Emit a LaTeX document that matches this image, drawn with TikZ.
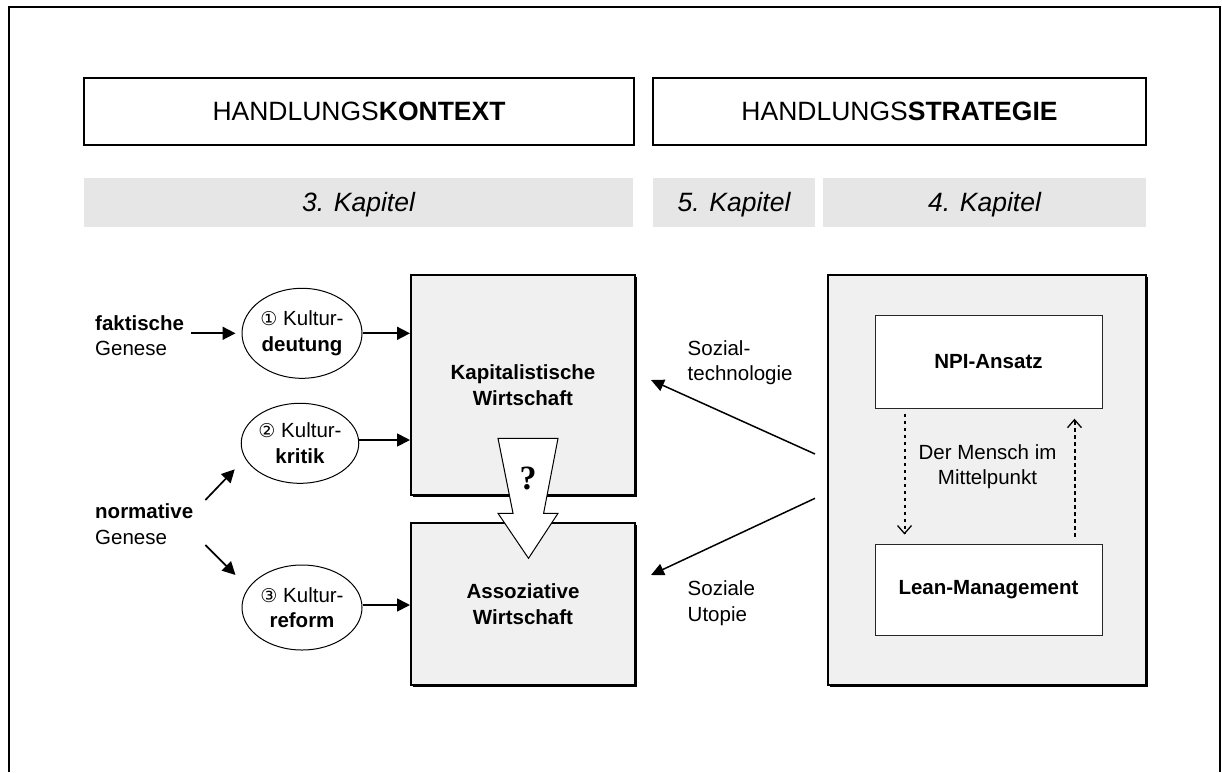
\documentclass[tikz,border=0pt]{standalone}
\usepackage{fontspec}
\setmainfont{Liberation Sans}
\newfontfamily\circfont{DejaVu Sans}
\newfontfamily\qfont{Liberation Serif}
\usetikzlibrary{arrows.meta,shadows,calc,shapes.geometric}
\definecolor{boxgray}{HTML}{F0F0F0}
\definecolor{bargray}{HTML}{E6E6E6}
\begin{document}
\begin{tikzpicture}[x=1pt,y=-1pt,
  every node/.style={inner sep=0pt},
  txt/.style={font=\fontsize{20.5}{25.6}\selectfont, align=center},
  titlebox/.style={draw, line width=2pt, fill=white, minimum height=67,
    font=\fontsize{26.5}{30}\selectfont, text depth=0pt,
    drop shadow={shadow xshift=0.8pt, shadow yshift=-0.8pt, fill=black, opacity=1}},
  kapbar/.style={fill=bargray, minimum height=49, text depth=0pt,
    font=\fontsize{26.5}{30}\selectfont\itshape},
  mainbox/.style={draw, line width=2pt, fill=boxgray, txt, font=\fontsize{20.5}{25.6}\selectfont\bfseries,
    drop shadow={shadow xshift=1.5pt, shadow yshift=-1.5pt, fill=black, opacity=1}},
  innerbox/.style={draw=black!85, line width=1pt, fill=white, minimum width=227, txt,
    font=\fontsize{20.5}{25.6}\selectfont\bfseries},
  ell/.style={ellipse, draw, line width=1pt, fill=white, txt},
  lbl/.style={txt, align=left, anchor=west},
  arr/.style={-{Triangle[length=13pt,width=13pt]}, line width=1.7pt},
  sarr/.style={-{Triangle[length=13pt,width=12pt]}, line width=1.5pt},
  darr/.style={-{Straight Barb[length=8pt,width=14pt,line width=1.3pt]}, line width=2pt,
    dash pattern=on 3.5pt off 3.5pt}
]
\useasboundingbox (0,0) rectangle (1222,772);
\fill[white] (0,0) rectangle (1222,772);

% outer frame (open at the bottom)
\draw[line width=2pt] (9,772) -- (9,7) -- (1220,7) -- (1220,772);

% titles
\node[titlebox, minimum width=550] (t1) at (359,111.5) {HANDLUNGS\textbf{KONTEXT}};
\node[titlebox, minimum width=493] (t2) at (899.5,111.5) {HANDLUNGS\textbf{STRATEGIE}};

% chapter bars
\node[kapbar, minimum width=549] (k3) at (358.5,202.2) {3. Kapitel};
\node[kapbar, minimum width=162] (k5) at (734,202.2) {5. Kapitel};
\node[kapbar, minimum width=323] (k4) at (984.5,202.2) {4. Kapitel};

% main boxes
\node[mainbox, minimum width=224, minimum height=220] (kap) at (523,385) {Kapitalistische\\Wirtschaft};
\node[mainbox, minimum width=224, minimum height=162] (ass) at (523,604) {Assoziative\\Wirtschaft};
\node[mainbox, minimum width=318, minimum height=410] (big) at (987,480) {};

\node[innerbox, minimum height=93] (npi) at (988.5,361.7) {NPI-Ansatz};
\node[innerbox, minimum height=91] (lean) at (988.5,589.5) {Lean-Management};

% ellipses
\node[ell, minimum width=120, minimum height=90] (e1) at (302,333.3) {{\circfont\fontsize{19}{20}\selectfont ①} Kultur-\\\textbf{deutung}};
\node[ell, minimum width=116, minimum height=80] (e2) at (300,443.3) {{\circfont\fontsize{19}{20}\selectfont ②} Kultur-\\\textbf{kritik}};
\node[ell, minimum width=120, minimum height=85] (e3) at (302,607.5) {{\circfont\fontsize{19}{20}\selectfont ③} Kultur-\\\textbf{reform}};

% left labels
\node[lbl] (fak) at (95,335.5) {\textbf{faktische}\\Genese};
\node[lbl] (nor) at (95,524) {\textbf{normative}\\Genese};

% left arrows
\draw[arr] ($(fak.east |- e1.west)+(7,0)$) -- ($(e1.west)+(-6,0)$);
\draw[arr] ($(nor.east)+(12,-24)$) -- ($(e2.west)+(-6,26)$);
\draw[arr] ($(nor.east)+(12,21)$) -- ($(e3.west)+(-6,-32.5)$);
\draw[arr] (e1.east) -- (e1.east -| kap.west);
\draw[arr] ($(e2.east)+(0,-3.3)$) -- ($(e2.east -| kap.west)+(0,-3.3)$);
\draw[arr] ($(e3.east)+(0,-2.5)$) -- ($(e3.east -| ass.west)+(0,-2.5)$);

% right side arrows and labels
\draw[sarr] ($(big.west)+(-12,-26)$) -- ($(kap.east)+(15,-5)$);
\draw[sarr] ($(big.west)+(-12,18.3)$) -- ($(ass.east)+(15,-29)$);
\node[lbl] (soz1) at (687.5,362.5) {Sozial-\\technologie};
\node[lbl] (soz2) at (687.5,603.3) {Soziale\\Utopie};

% dotted arrows
\draw[darr] ($(npi.south west)+(30,5)$) -- ($(lean.north west)+(30,-9)$);
\draw[darr] ($(lean.north east)+(-28,-6.7)$) -- ($(npi.south east)+(-28,10)$);
\node[txt] (mensch) at (987.5,466.7) {Der Mensch im\\Mittelpunkt};

% big block arrow with question mark
\draw[line width=1pt, fill=white] (498,438.3) -- (558,438.3) -- (543.6,513.3) -- (558,513.3)
  -- (528.5,558.3) -- (498,513.3) -- (513,513.3) -- cycle;
\node[font=\qfont\bfseries\fontsize{34}{34}\selectfont] (q) at (528,478) {?};
\end{tikzpicture}
\end{document}
